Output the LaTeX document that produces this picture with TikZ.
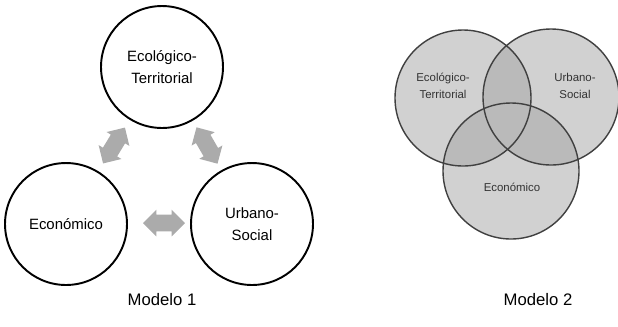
\documentclass[tikz,border=0pt]{standalone}
\usepackage{fontspec}
\setmainfont{Liberation Sans}
\usetikzlibrary{shapes.arrows,calc}

\begin{document}
\begin{tikzpicture}[x=0.02cm, y=-0.02cm,
    sphere/.style={circle, draw, line width=1.1pt, minimum size=2.44cm, inner sep=0, align=center, font=\fontsize{8.5}{12.5}\selectfont},
    link/.style={double arrow, fill=black!33, inner sep=0.16cm, minimum height=0.84cm, double arrow head extend=0.1cm},
    tag/.style={align=center, text=black!80, font=\fontsize{6.5}{10}\selectfont}]
    \useasboundingbox (0,0) rectangle (618,326);
    % Modelo 1
    \node[sphere] (ter) at (162,67) {Ecológico-\\Territorial};
    \node[sphere] (eco) at (66,224) {Económico};
    \node[sphere] (urb) at (252,224) {Urbano-\\Social};
    \node[link, rotate=58.6] (l1) at ($(eco)!0.5!(ter)$) {};
    \node[link, rotate=-60] (l2) at ($(ter)!0.5!(urb)$) {};
    \node[link] (l3) at (164,223) {};
    \node[font=\fontsize{9.5}{11}\selectfont] (m1) at (162,300) {Modelo 1};
    % Modelo 2
    \foreach \n/\x/\y in {vter/463/98, vurb/551/97, veco/511/171}
        \node[circle, fill=black!18, minimum size=2.72cm, inner sep=0] (\n) at (\x,\y) {};
    \foreach \a/\b in {vter/vurb, vter/veco, vurb/veco}{
        \begin{scope}
            \clip (\a.center) circle[radius=68];
            \fill[black!27] (\b.center) circle[radius=68];
        \end{scope}
    }
    \foreach \n in {vter,vurb,veco}
        \draw[black!75, line width=0.8pt] (\n.center) circle[radius=68];
    \node[tag] (tter) at (443,86) {Ecológico-\\Territorial};
    \node[tag] (turb) at (575,86) {Urbano-\\Social};
    \node[tag] (teco) at (512,187) {Económico};
    \node[font=\fontsize{9.5}{11}\selectfont] (m2) at (538,300) {Modelo 2};
\end{tikzpicture}
\end{document}
